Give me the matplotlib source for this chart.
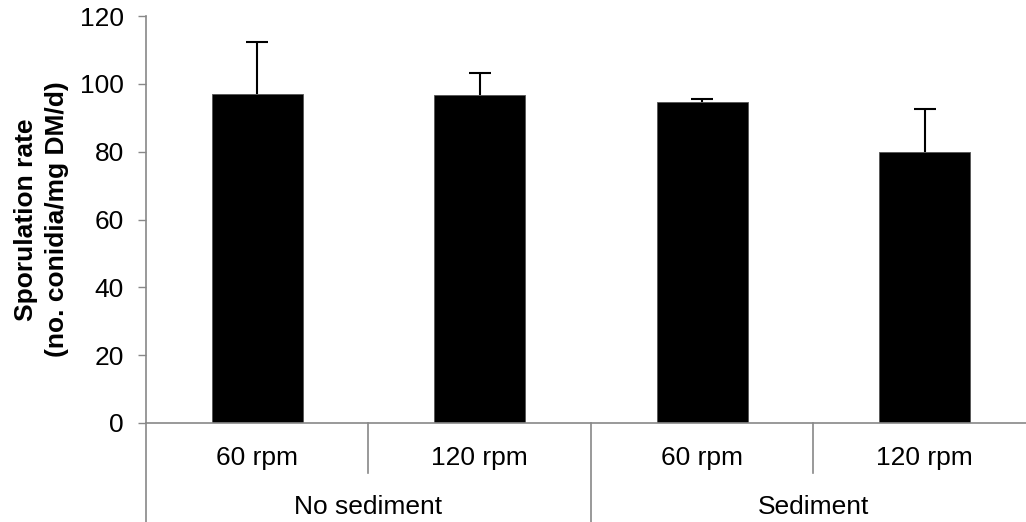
import matplotlib.pyplot as plt

# ============================================================
# DATA
# ============================================================
speeds = ["60 rpm", "120 rpm", "60 rpm", "120 rpm"]
groups = ["No sediment", "Sediment"]
means = [97.0, 96.6, 94.7, 79.8]
errors = [15.3, 6.7, 0.8, 12.7]

plt.rcParams["font.family"] = ["Liberation Sans", "DejaVu Sans"]
axis_grey = "#888888"

fig = plt.figure(figsize=(10.26, 5.22), dpi=100)
ax = fig.add_axes([0.1423, 0.1897, 0.8674, 0.7796])

x = list(range(len(means)))
ax.bar(x, means, width=0.41, color="black", edgecolor="#555555", linewidth=0.6, zorder=2)
eb = ax.errorbar(x, means, yerr=[[0] * len(errors), errors], fmt="none",
                 ecolor="black", elinewidth=1.5, capsize=8, capthick=1.5, zorder=3)
# keep only the upper cap
eb[1][0].set_visible(False)

ax.set_xlim(-0.5, 3.5)
ax.set_ylim(0, 120)
ax.set_yticks(range(0, 121, 20))
ax.tick_params(axis="y", labelsize=19, length=6, width=1, color=axis_grey, pad=10)
ax.set_xticks([])

for side in ["top", "right"]:
    ax.spines[side].set_visible(False)
ax.spines["left"].set_color(axis_grey)
ax.spines["bottom"].set_color(axis_grey)
ax.spines["left"].set_linewidth(1.2)
ax.spines["bottom"].set_linewidth(1.2)

ax.set_ylabel("Sporulation rate\n(no. conidia/mg DM/d)", fontsize=19,
              fontweight="bold", labelpad=8, linespacing=1.35)

# two level category axis
trans = ax.get_xaxis_transform()
for i, lab in enumerate(speeds):
    ax.text(i, -0.086, lab, transform=trans, ha="center", va="center", fontsize=19)
for j, lab in enumerate(groups):
    ax.text(2 * j + 0.5, -0.206, lab, transform=trans, ha="center", va="center", fontsize=19)

# dividers between speeds (short) and groups (long)
for xd in [0.5, 2.5]:
    ax.plot([xd, xd], [0, -0.123], transform=trans, color=axis_grey, lw=1.2, clip_on=False)
for xd in [-0.5, 1.5, 3.5]:
    ax.plot([xd, xd], [0, -0.25], transform=trans, color=axis_grey, lw=1.2, clip_on=False)

plt.savefig("out.png", dpi=100)
